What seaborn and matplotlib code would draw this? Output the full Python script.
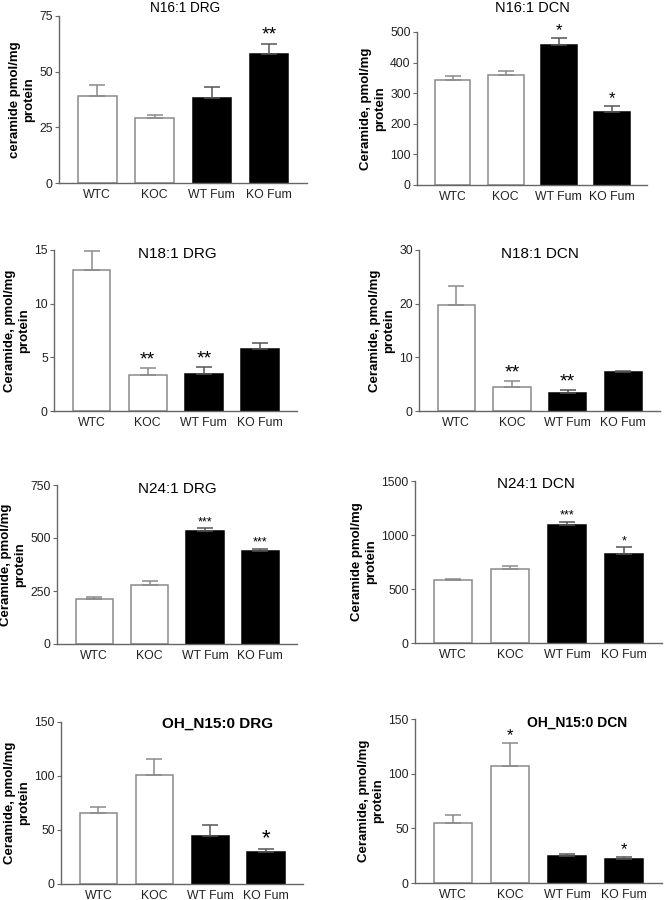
import matplotlib

matplotlib.use("Agg")
import matplotlib.pyplot as plt
import numpy as np
import pandas as pd
import seaborn as sns

# Group names shared by every panel
groups = ["WTC", "KOC", "WT Fum", "KO Fum"]

# Mean and SEM values (pmol/mg protein)
n16_drg_mean = [39, 29, 38, 58]
n16_drg_sem = [5, 1.5, 5, 4.5]
n16_dcn_mean = [343, 358, 456, 238]
n16_dcn_sem = [14, 16, 25, 20]
n18_drg_mean = [13.1, 3.4, 3.45, 5.8]
n18_drg_sem = [1.8, 0.6, 0.65, 0.55]
n18_dcn_mean = [19.7, 4.5, 3.4, 7.3]
n18_dcn_sem = [3.5, 1.0, 0.5, 0.15]
n24_drg_mean = [212, 280, 532, 437]
n24_drg_sem = [10, 17, 13, 12]
n24_dcn_mean = [583, 685, 1095, 828]
n24_dcn_sem = [7, 27, 30, 57]
oh15_drg_mean = [66, 101, 44, 30]
oh15_drg_sem = [5, 15, 11, 2]
oh15_dcn_mean = [55, 107, 25, 22]
oh15_dcn_sem = [7, 21, 1.5, 2]

# Significance marks above each bar
n16_drg_stars = ["", "", "", "**"]
n16_dcn_stars = ["", "", "*", "*"]
n18_drg_stars = ["", "**", "**", ""]
n18_dcn_stars = ["", "**", "**", ""]
n24_drg_stars = ["", "", "***", "***"]
n24_dcn_stars = ["", "", "***", "*"]
oh15_drg_stars = ["", "", "", "*"]
oh15_dcn_stars = ["", "*", "", "*"]

titles = ["N16:1 DRG", "N16:1 DCN", "N18:1 DRG", "N18:1 DCN",
          "N24:1 DRG", "N24:1 DCN", "OH_N15:0 DRG", "OH_N15:0 DCN"]
ylabels = ["ceramide pmol/mg\nprotein", "Ceramide, pmol/mg\nprotein",
           "Ceramide, pmol/mg\nprotein", "Ceramide, pmol/mg\nprotein",
           "Ceramide, pmol/mg\nprotein", "Ceramide pmol/mg\nprotein",
           "Ceramide, pmol/mg\nprotein", "Ceramide, pmol/mg\nprotein"]
yticks = [[0, 25, 50, 75], [0, 100, 200, 300, 400, 500], [0, 5, 10, 15],
          [0, 10, 20, 30], [0, 250, 500, 750], [0, 500, 1000, 1500],
          [0, 50, 100, 150], [0, 50, 100, 150]]

panels = [
    (n16_drg_mean, n16_drg_sem, n16_drg_stars),
    (n16_dcn_mean, n16_dcn_sem, n16_dcn_stars),
    (n18_drg_mean, n18_drg_sem, n18_drg_stars),
    (n18_dcn_mean, n18_dcn_sem, n18_dcn_stars),
    (n24_drg_mean, n24_drg_sem, n24_drg_stars),
    (n24_dcn_mean, n24_dcn_sem, n24_dcn_stars),
    (oh15_drg_mean, oh15_drg_sem, oh15_drg_stars),
    (oh15_dcn_mean, oh15_dcn_sem, oh15_dcn_stars),
]

# Layout in pixels: (left, right, top, bottom) of each axes box
W, H = 664, 900
boxes = [(59, 307, 16, 183), (417, 647, 32, 185),
         (54, 297, 250, 411), (419, 660, 250, 411),
         (57, 297, 485, 644), (415, 662, 481, 643),
         (61, 303, 722, 884), (415, 662, 719, 883)]
# title position in axes fraction, size, weight
title_pos = [(0.508, 1.045, 9.8, "normal"), (0.5, 1.155, 10.5, "normal"),
             (0.506, 0.975, 11, "normal"), (0.502, 0.975, 11, "normal"),
             (0.5, 0.975, 11, "normal"), (0.49, 0.98, 11, "normal"),
             (0.645, 0.99, 11, "bold"), (0.656, 0.98, 10, "bold")]
star_size = [14, 12, 14, 14, 9, 9, 16, 12]

sns.set_theme(style="ticks")
plt.rcParams["font.family"] = ["Liberation Sans", "DejaVu Sans"]

palette = {"WTC": "white", "KOC": "white", "WT Fum": "black", "KO Fum": "black"}
edge_colors = ["#8a8a8a", "#8a8a8a", "black", "black"]
err_colors = ["#8a8a8a", "#8a8a8a", "#555555", "#555555"]

fig = plt.figure(figsize=(W / 100, H / 100), dpi=100)

for k, (mean, sem, stars) in enumerate(panels):
    x0, x1, yt, yb = boxes[k]
    ax = fig.add_axes([x0 / W, 1 - yb / H, (x1 - x0) / W, (yb - yt) / H])
    df = pd.DataFrame({"group": groups, "mean": mean, "sem": sem})

    sns.barplot(data=df, x="group", y="mean", hue="group", palette=palette,
                legend=False, errorbar=None, width=0.67, linewidth=1.1,
                ax=ax)
    for patch, ec in zip(ax.patches, edge_colors):
        patch.set_edgecolor(ec)

    for i in range(len(groups)):
        ax.errorbar(i, df["mean"][i], yerr=[[0], [df["sem"][i]]], fmt="none",
                    ecolor=err_colors[i], elinewidth=1.1, capsize=5.5,
                    capthick=1.1, zorder=1)
        if stars[i]:
            ax.annotate(stars[i], (i, df["mean"][i] + df["sem"][i]),
                        xytext=(0, 0), textcoords="offset points",
                        ha="center", va="bottom", fontsize=star_size[k],
                        color="black")

    ax.set_xlim(-0.67, 3.66)
    ax.set_ylim(yticks[k][0], yticks[k][-1])
    ax.set_yticks(yticks[k])
    ax.set_xlabel("")
    ax.set_ylabel(ylabels[k], fontsize=9.5, fontweight="bold", labelpad=3,
                  color="black")
    tx, ty, ts, tw = title_pos[k]
    ax.text(tx, ty, titles[k], transform=ax.transAxes, ha="center",
            va="center", fontsize=ts, fontweight=tw, color="black")

    sns.despine(ax=ax)
    for side in ["left", "bottom"]:
        ax.spines[side].set_color("#666666")
        ax.spines[side].set_linewidth(1.0)
    ax.tick_params(axis="y", length=3, width=0.8, color="#666666",
                   labelsize=8.8, labelcolor="#222222", pad=1.5)
    ax.tick_params(axis="x", length=0, labelsize=8.8, labelcolor="#222222",
                   pad=4)

fig.savefig("out.png", dpi=100)
